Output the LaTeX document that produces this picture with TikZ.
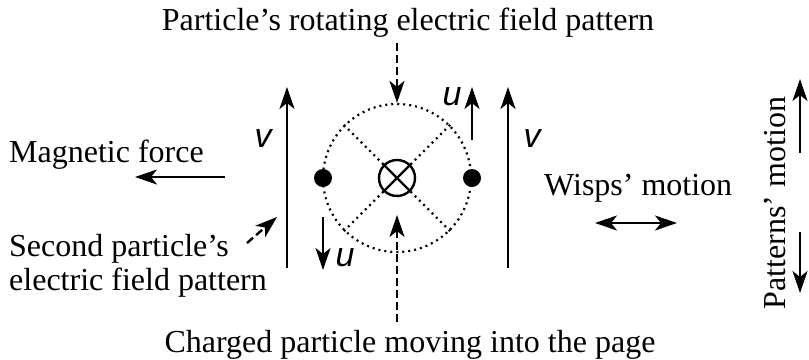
\documentclass[tikz,border=0pt]{standalone}
\usepackage{fontspec}
\setmainfont{Liberation Serif}
\newfontfamily\speedfont{Liberation Sans}
\usepackage{tikz}
\usetikzlibrary{arrows.meta}

\begin{document}
\begin{tikzpicture}[
    x=0.5pt, y=-0.5pt,
    >={Stealth[length=11pt, width=7.5pt, inset=3pt]}, line width=1.2pt,
    caption/.style={font=\fontsize{16}{16.7}\selectfont, inner sep=0pt},
    speed/.style={font=\speedfont\itshape\fontsize{17}{17}\selectfont, inner sep=0pt},
    charge/.style={circle, fill=black, minimum size=9pt, inner sep=0pt},
    pointer/.style={->, dash pattern=on 4pt off 2pt},
    wisp/.style={line width=1.1pt, dash pattern=on 1pt off 2pt}
]
\useasboundingbox (0,0) rectangle (809,359);

% Field pattern
\node[circle, draw, wisp, minimum size=74pt, inner sep=0pt] (field) at (397,178) {};
\node[circle, draw, minimum size=18pt, inner sep=0pt] (into) at (397,178) {};
\node[charge] (left) at (323,178) {};
\node[charge] (right) at (472,178) {};

% Captions
\node[caption, anchor=base] (toplabel) at (408,30) {Particle’s rotating electric field pattern};
\node[caption, anchor=base] (bottomlabel) at (410,352) {Charged particle moving into the page};
\node[caption, anchor=base west] (magnetic) at (8,162) {Magnetic force};
\node[caption, anchor=base west, align=left] (second) at (8,290) {Second particle’s\\electric field pattern};
\node[caption, anchor=base west] (wisps) at (543,195) {Wisps’ motion};
\node[caption, anchor=base, rotate=90] (patterns) at (785,203) {Patterns’ motion};

% Speed labels
\node[speed] (vleft) at (263,139) {v};
\node[speed] (vright) at (532,139) {v};
\node[speed] (uup) at (452,97) {u};
\node[speed] (udown) at (345,258) {u};

% Arrow ends
\coordinate (vleft-tail) at (287,268);
\coordinate (vleft-tip) at (287,87);
\coordinate (vright-tail) at (508,268);
\coordinate (vright-tip) at (508,87);
\coordinate (uup-tail) at (472,140);
\coordinate (uup-tip) at (472,87);
\coordinate (udown-tail) at (323,217);
\coordinate (udown-tip) at (323,270);
\coordinate (force-tail) at (225,177);
\coordinate (force-tip) at (135,177);
\coordinate (top-tail) at (397,43);
\coordinate (bottom-tail) at (397,322);
\coordinate (bottom-tip) at (397,215);
\coordinate (second-tail) at (247,243);
\coordinate (second-tip) at (277,217);
\coordinate (wisps-a) at (595,223);
\coordinate (wisps-b) at (677,223);
\coordinate (up-tail) at (800,153);
\coordinate (up-tip) at (800,79);
\coordinate (down-tail) at (800,232);
\coordinate (down-tip) at (800,293);

% Connections
\draw (into.north west) -- (into.south east);
\draw (into.north east) -- (into.south west);
\draw[wisp] (into.north west) -- (field.north west);
\draw[wisp] (into.north east) -- (field.north east);
\draw[wisp] (into.south west) -- (field.south west);
\draw[wisp] (into.south east) -- (field.south east);

\draw[->] (vleft-tail) -- (vleft-tip);
\draw[->] (vright-tail) -- (vright-tip);
\draw[->] (uup-tail) -- (uup-tip);
\draw[->] (udown-tail) -- (udown-tip);
\draw[->] (force-tail) -- (force-tip);
\draw[<->] (wisps-a) -- (wisps-b);
\draw[->] (up-tail) -- (up-tip);
\draw[->] (down-tail) -- (down-tip);

\draw[pointer] (top-tail) -- (field.north);
\draw[pointer] (bottom-tail) -- (bottom-tip);
\draw[pointer] (second-tail) -- (second-tip);
\end{tikzpicture}
\end{document}
